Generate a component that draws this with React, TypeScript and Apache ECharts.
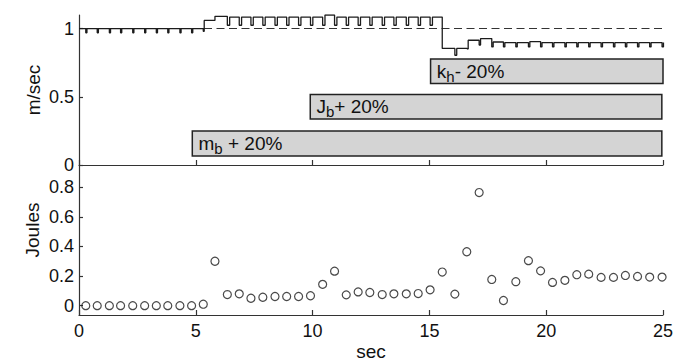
import React, { useEffect, useRef } from "react";
import * as echarts from "echarts";

// time (s) of each hop / energy sample
const stepTimes = [
  0.29, 0.78, 1.3, 1.78, 2.3, 2.81, 3.31, 3.8, 4.32, 4.82,
  5.32, 5.82, 6.35, 6.86, 7.36, 7.87, 8.39, 8.89, 9.4, 9.91,
  10.43, 10.94, 11.44, 11.95, 12.45, 12.98, 13.48, 14.01, 14.52, 15.03,
  15.55, 16.09, 16.6, 17.13, 17.67, 18.17, 18.7, 19.24, 19.76, 20.27,
  20.8, 21.31, 21.82, 22.35, 22.88, 23.39, 23.91, 24.43, 24.96,
];

// energy per hop (Joules)
const joules = [
  0.0, 0.0, 0.0, 0.0, 0.0, 0.0, 0.0, 0.0, 0.0, 0.0,
  0.01, 0.3, 0.075, 0.08, 0.05, 0.057, 0.062, 0.062, 0.062, 0.067,
  0.144, 0.233, 0.073, 0.093, 0.089, 0.075, 0.08, 0.08, 0.082, 0.107,
  0.227, 0.078, 0.364, 0.764, 0.177, 0.035, 0.162, 0.304, 0.235, 0.157,
  0.171, 0.209, 0.213, 0.191, 0.191, 0.204, 0.197, 0.193, 0.193,
];

// speed (m/sec): level held after each hop, dip at the hop, dip duration (s)
const speedStart = 1.0;
const speedHigh = [
  1.0, 1.0, 1.0, 1.0, 1.0, 1.0, 1.0, 1.0, 1.0, 1.0,
  1.06, 1.09, 1.085, 1.085, 1.085, 1.085, 1.085, 1.085, 1.085, 1.085,
  1.1, 1.085, 1.085, 1.085, 1.085, 1.085, 1.085, 1.085, 1.085, 1.085,
  0.855, 0.855, 0.915, 0.927, 0.902, 0.898, 0.898, 0.905, 0.898, 0.898,
  0.898, 0.898, 0.898, 0.898, 0.898, 0.898, 0.898, 0.898, 0.898,
];
const speedLow = [
  0.97, 0.97, 0.97, 0.97, 0.97, 0.97, 0.97, 0.97, 0.97, 0.97,
  0.98, 1.06, 1.025, 1.025, 1.025, 1.025, 1.025, 1.025, 1.025, 1.025,
  1.025, 1.025, 1.025, 1.025, 1.025, 1.025, 1.025, 1.025, 1.025, 1.025,
  0.855, 0.805, 0.85, 0.88, 0.866, 0.866, 0.866, 0.866, 0.866, 0.866,
  0.866, 0.866, 0.866, 0.866, 0.866, 0.866, 0.866, 0.866, 0.866,
];
const dipDur = [
  0.05, 0.05, 0.05, 0.05, 0.05, 0.05, 0.05, 0.05, 0.05, 0.05,
  0.04, 0, 0.1, 0.1, 0.1, 0.1, 0.1, 0.1, 0.1, 0.1,
  0.1, 0.1, 0.1, 0.1, 0.1, 0.1, 0.1, 0.1, 0.1, 0.1,
  0, 0.08, 0.06, 0.06, 0.06, 0.06, 0.06, 0.06, 0.06, 0.06,
  0.06, 0.06, 0.06, 0.06, 0.06, 0.06, 0.06, 0.06, 0.06,
];
const speedEnd = 25;
const speedRef = 1.0;

// parameter-change boxes
const boxMain = ["m", "J", "k"];
const boxSub = ["b", "b", "h"];
const boxRest = [" + 20%", "+ 20%", "- 20%"];
const boxStart = [4.85, 9.9, 15.05];
const boxEnd = [24.95, 24.95, 25];
const boxLow = [0.066, 0.337, 0.598];
const boxHigh = [0.249, 0.517, 0.778];

const xTicks = [0, 5, 10, 15, 20, 25];
const speedTicks = [0, 0.5, 1];
const jouleTicks = [0, 0.2, 0.4, 0.6, 0.8];

const FONT = "'Liberation Sans', Arial, Helvetica, sans-serif";
const INK = "#1c1c1c";

export default function App() {
  const ref = useRef<HTMLDivElement>(null);

  useEffect(() => {
    if (!ref.current) return;
    const chart = echarts.init(ref.current, undefined, { renderer: "svg" });

    const speedPts: number[][] = [[0, speedStart]];
    stepTimes.forEach((t, i) => {
      const prev = i === 0 ? speedStart : speedHigh[i - 1];
      speedPts.push([t, prev]);
      speedPts.push([t, speedLow[i]]);
      speedPts.push([t + dipDur[i], speedLow[i]]);
      speedPts.push([t + dipDur[i], speedHigh[i]]);
    });
    speedPts.push([speedEnd, speedHigh[speedHigh.length - 1]]);

    const scatterPts = stepTimes.map((t, i) => [t, joules[i]]);

    const areas = boxMain.map((m, i) => [
      {
        coord: [boxStart[i], boxHigh[i]],
        label: {
          formatter: `{n|${m}}{s|${boxSub[i]}}{n|${boxRest[i]}}`,
        },
      },
      { coord: [boxEnd[i], boxLow[i]] },
    ]);

    const axisLine = { show: true, onZero: false, lineStyle: { color: "#333", width: 1.2 } };
    const tickStyle = { color: "#333", width: 1.2 };

    chart.setOption({
      animation: false,
      backgroundColor: "#fff",
      grid: [
        { left: 79, right: 29, top: 15, height: 150 },
        { left: 79, right: 29, top: 165, height: 152 },
      ],
      xAxis: [
        {
          gridIndex: 0,
          type: "value",
          min: 0,
          max: 25,
          interval: 5,
          axisLine,
          axisTick: { inside: true, length: 5, lineStyle: tickStyle },
          axisLabel: { show: false },
          splitLine: { show: false },
        },
        {
          gridIndex: 1,
          type: "value",
          min: 0,
          max: 25,
          interval: 5,
          axisLine,
          axisTick: { inside: true, length: 5, lineStyle: tickStyle },
          axisLabel: {
            show: true,
            fontSize: 18,
            fontFamily: FONT,
            color: "#111",
            margin: 7,
            customValues: xTicks,
          },
          splitLine: { show: false },
          name: "sec",
          nameLocation: "middle",
          nameGap: 27,
          nameTextStyle: { fontSize: 19, fontFamily: FONT, color: "#111" },
        },
      ],
      yAxis: [
        {
          gridIndex: 0,
          type: "value",
          min: 0,
          max: 1.1,
          axisLine,
          axisTick: { inside: true, length: 4, lineStyle: tickStyle, customValues: speedTicks },
          axisLabel: {
            fontSize: 18,
            fontFamily: FONT,
            color: "#111",
            margin: 5,
            customValues: speedTicks,
            formatter: (v: number) => String(v),
          },
          splitLine: { show: false },
        },
        {
          gridIndex: 1,
          type: "value",
          min: -0.063,
          max: 0.95,
          axisLine,
          axisTick: { inside: true, length: 4, lineStyle: tickStyle, customValues: jouleTicks },
          axisLabel: {
            fontSize: 18,
            fontFamily: FONT,
            color: "#111",
            margin: 5,
            customValues: jouleTicks,
            formatter: (v: number) => String(v),
          },
          splitLine: { show: false },
        },
      ],
      graphic: [
        {
          type: "text",
          x: 33,
          y: 90,
          rotation: Math.PI / 2,
          style: {
            text: "m/sec",
            font: `19px ${FONT}`,
            fill: "#111",
            textAlign: "center",
            textVerticalAlign: "middle",
            verticalAlign: "middle",
          },
        },
        {
          type: "text",
          x: 32,
          y: 230,
          rotation: Math.PI / 2,
          style: {
            text: "Joules",
            font: `19px ${FONT}`,
            fill: "#111",
            textAlign: "center",
            textVerticalAlign: "middle",
            verticalAlign: "middle",
          },
        },
      ],
      series: [
        {
          type: "line",
          xAxisIndex: 0,
          yAxisIndex: 0,
          data: speedPts,
          showSymbol: false,
          symbol: "none",
          lineStyle: { color: INK, width: 1.3 },
          z: 5,
          markLine: {
            silent: true,
            symbol: "none",
            label: { show: false },
            lineStyle: { color: "#333", width: 1.2, type: [8, 4.5] },
            data: [{ yAxis: speedRef }],
          },
          markArea: {
            silent: true,
            itemStyle: { color: "#d4d4d4", borderColor: "#222", borderWidth: 1.5 },
            label: {
              show: true,
              position: "insideLeft",
              distance: 7,
              rich: {
                n: { fontSize: 19, fontFamily: FONT, color: "#111" },
                s: { fontSize: 15, fontFamily: FONT, color: "#111", padding: [10, 0, 0, 0] },
              },
            },
            data: areas,
          },
        },
        {
          type: "scatter",
          xAxisIndex: 1,
          yAxisIndex: 1,
          data: scatterPts,
          symbol: "circle",
          symbolSize: 8,
          itemStyle: { color: "rgba(255,255,255,0)", borderColor: INK, borderWidth: 1.2 },
        },
      ],
    });

    return () => chart.dispose();
  }, []);

  return (
    <div
      ref={ref}
      style={{ position: "fixed", left: 0, top: 0, width: 692, height: 362, background: "#fff" }}
    />
  );
}
